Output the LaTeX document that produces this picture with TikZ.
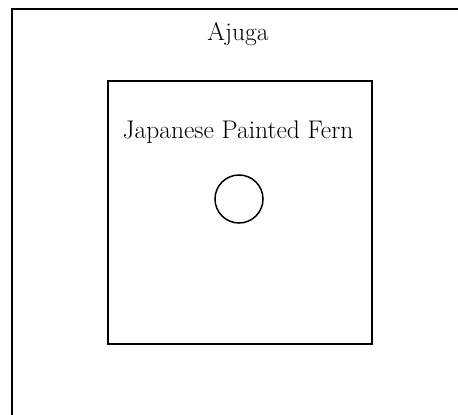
\documentclass[tikz,border=0pt]{standalone}
\usepackage{tikz}
\usetikzlibrary{positioning}

\begin{document}
\begin{tikzpicture}[x=1pt, y=-1pt,
  bed/.style={draw, line width=2pt, inner sep=0pt, anchor=north west},
  lbl/.style={font=\fontsize{25.5}{30}\selectfont, anchor=base, inner sep=0pt},
  plant/.style={draw, circle, line width=1.5pt, minimum size=48pt, inner sep=0pt}]
\useasboundingbox (0,0) rectangle (458,415);
\clip (0,0) rectangle (458,415);
\node[bed, minimum width=470pt, minimum height=430pt] (ajuga) at (11,8) {};
\node[bed, minimum width=264pt, minimum height=263pt] (fern) at (107,80) {};
\node[lbl] (ajugalbl) at (238,40) {Ajuga};
\node[lbl] (fernlbl) at (238,138) {Japanese Painted Fern};
\node[plant] (centre) at (239,199) {};
\end{tikzpicture}
\end{document}
